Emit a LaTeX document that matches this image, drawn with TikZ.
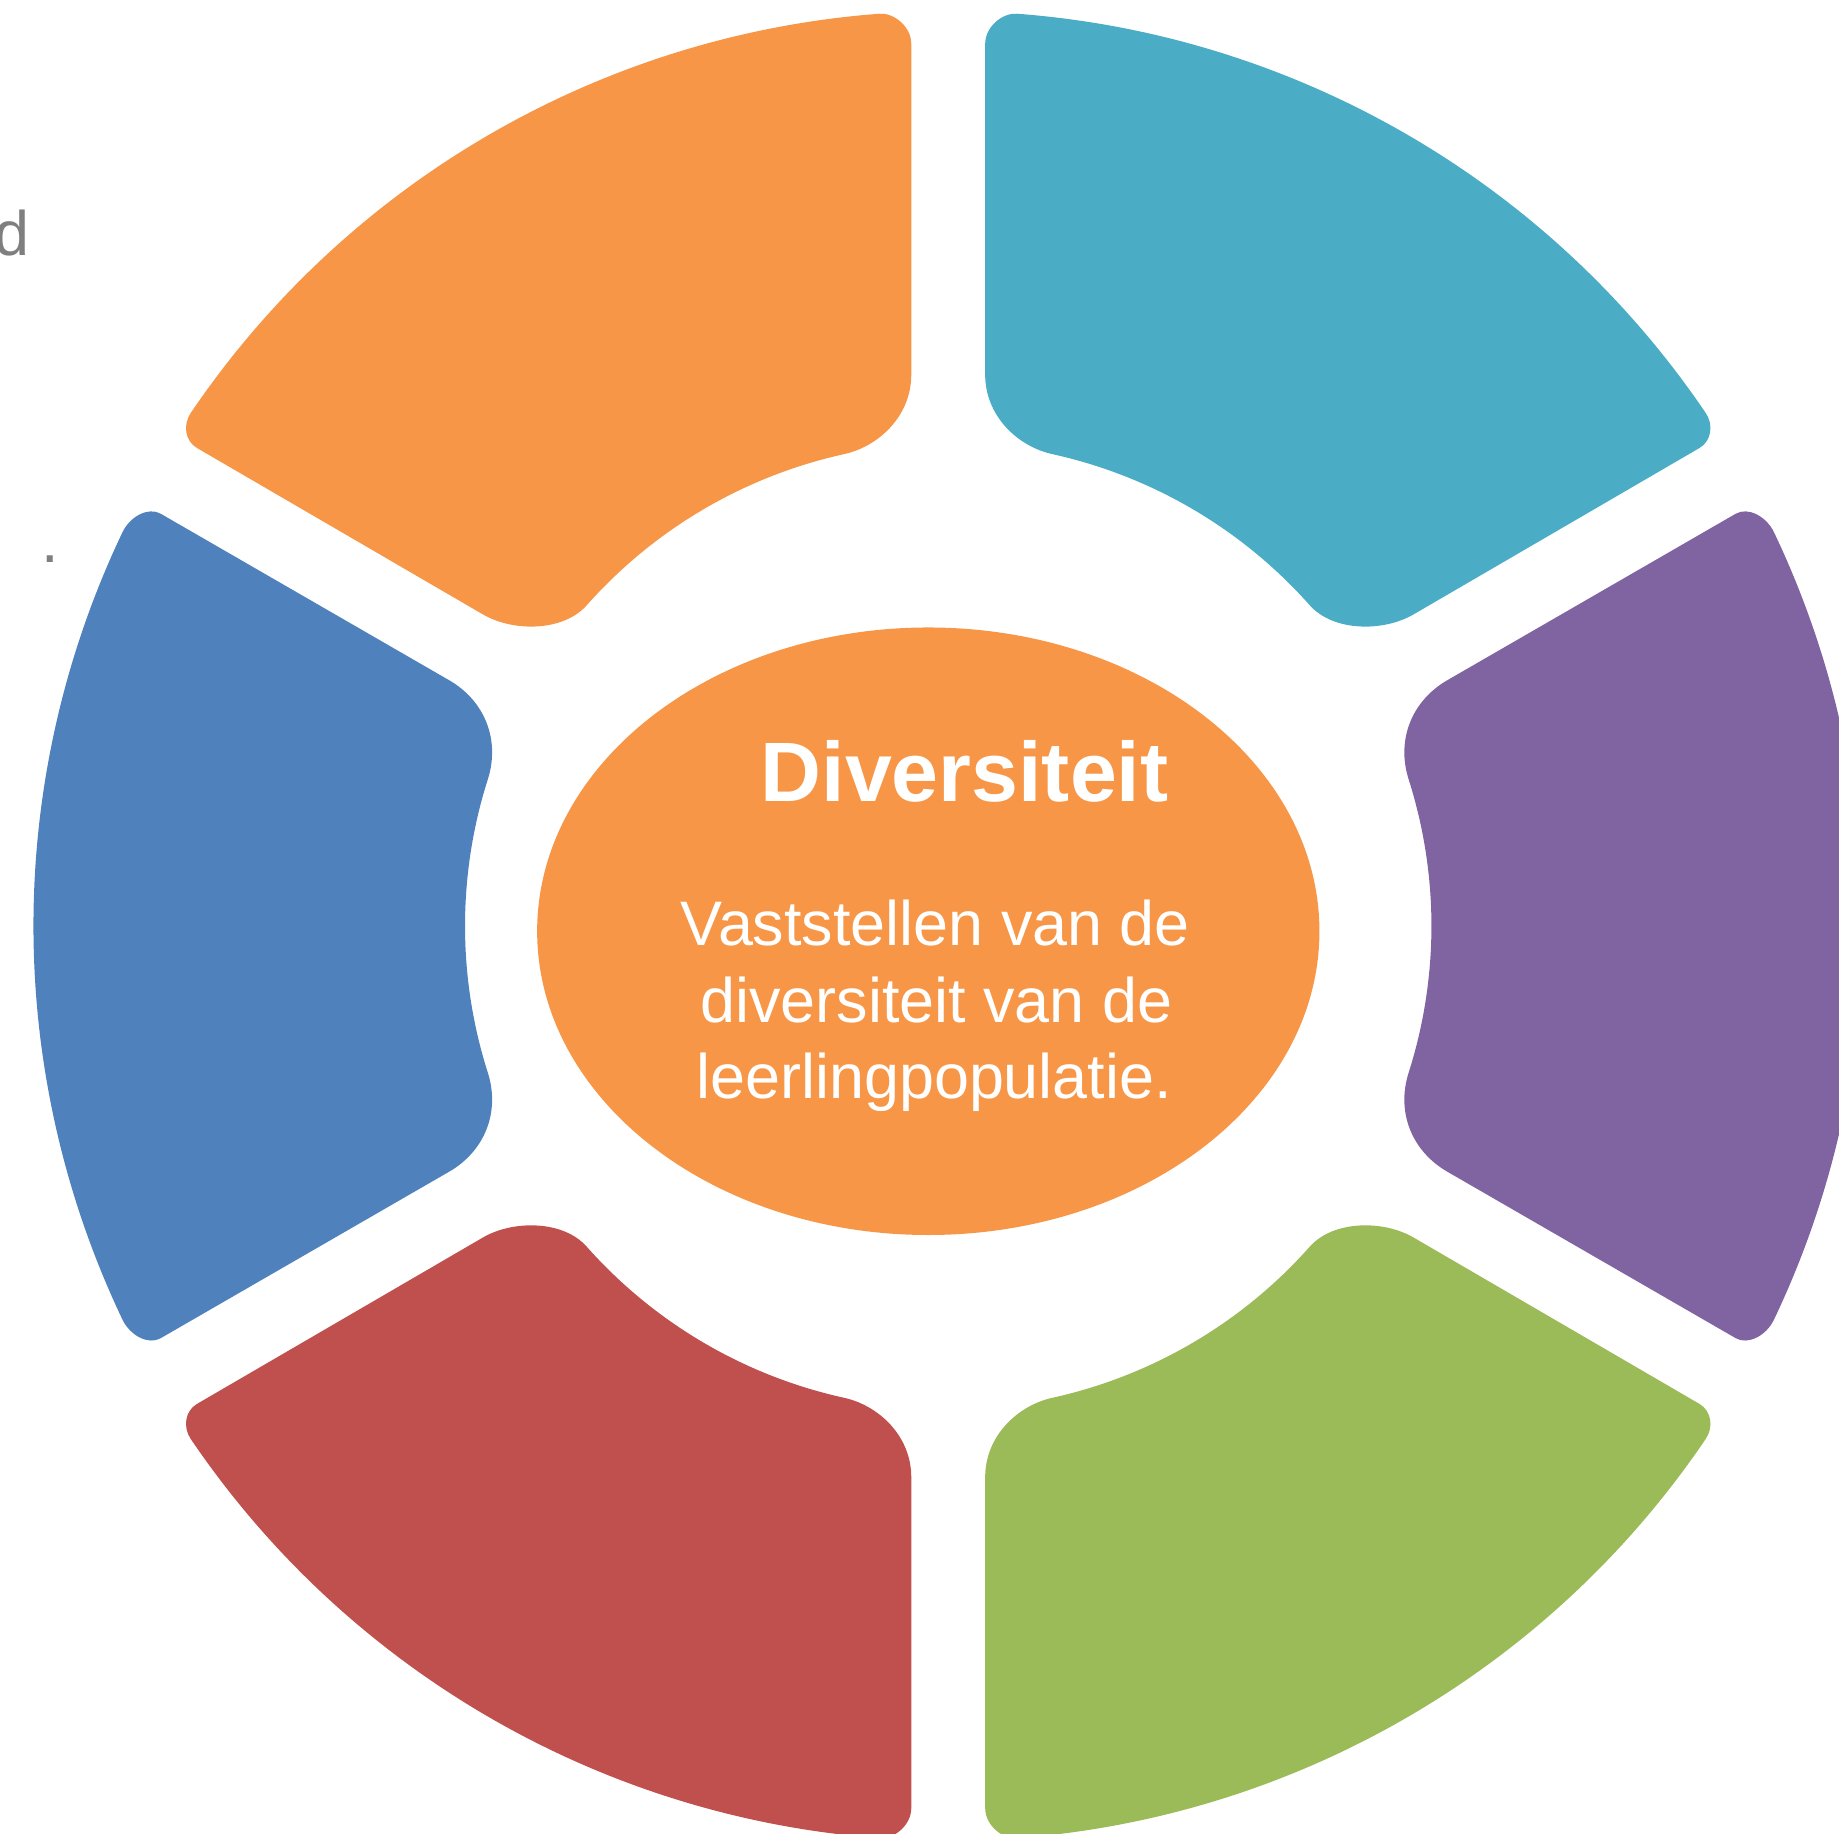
\documentclass[tikz,border=0pt]{standalone}
\usepackage{fontspec}
\setmainfont{Liberation Sans}
\usepackage{tikz}
\usepackage{xcolor}
\usetikzlibrary{positioning}
\definecolor{segorange}{HTML}{F79646}
\definecolor{segteal}{HTML}{4BACC6}
\definecolor{segblue}{HTML}{4F81BD}
\definecolor{segpurple}{HTML}{8064A2}
\definecolor{segred}{HTML}{C0504D}
\definecolor{seggreen}{HTML}{9BBB59}
\definecolor{restgray}{HTML}{7F7F7F}

\begin{document}
\begin{tikzpicture}[x=0.011728cm,y=0.011728cm,
  titel/.style={anchor=base,text=white,font=\fontsize{24}{29}\selectfont\bfseries},
  regel/.style={anchor=base,text=white,font=\fontsize{17.9}{21.8}\selectfont},
  rest/.style={text=restgray,font=\fontsize{17.9}{21.8}\selectfont}]
\tikzstyle{every node}+=[inner sep=0pt]
\useasboundingbox (-808.5,-773.5) rectangle (759.5,789.5);
\clip (-808.5,-773.5) rectangle (759.5,789.5);
\fill [segorange] (-31.5,470) -- (-31.5,752) .. controls (-31.5,767) and (-46.5,778.7) .. (-58.5,777.8) arc (94.3:145.9:780) .. controls (-652.6,427.5) and (-650.9,413.5) .. (-640.5,407.5) -- (-396.5,265.5) .. controls (-370.5,250.5) and (-328,251) .. (-308.2,273.5) arc (138.4:102.4:412) .. controls (-59.1,408.9) and (-31.5,435) .. (-31.5,470) -- cycle;
\fill [segteal] (31.5,470) -- (31.5,752) .. controls (31.5,767) and (46.5,778.7) .. (58.5,777.8) arc (85.7:34.1:780) .. controls (652.6,427.5) and (650.9,413.5) .. (640.5,407.5) -- (396.5,265.5) .. controls (370.5,250.5) and (328,251) .. (308.2,273.5) arc (41.6:77.6:412) .. controls (59.1,408.9) and (31.5,435) .. (31.5,470) -- cycle;
\fill [segblue] (-425.5,209.5) -- (-671.5,351.5) .. controls (-681.9,357.5) and (-697.5,349.3) .. (-704,335.8) arc (154.5:205.5:780) .. controls (-697.5,-349.3) and (-681.9,-357.5) .. (-671.5,-351.5) -- (-425.5,-209.5) .. controls (-395.2,-192) and (-381.9,-158.7) .. (-392.5,-125.3) arc (197.7:162.3:412) .. controls (-381.9,158.7) and (-395.2,192) .. (-425.5,209.5) -- cycle;
\fill [segpurple] (425.5,209.5) -- (671.5,351.5) .. controls (681.9,357.5) and (697.5,349.3) .. (704,335.8) arc (25.5:-25.5:780) .. controls (697.5,-349.3) and (681.9,-357.5) .. (671.5,-351.5) -- (425.5,-209.5) .. controls (395.2,-192) and (381.9,-158.7) .. (392.5,-125.3) arc (-17.7:17.7:412) .. controls (381.9,158.7) and (395.2,192) .. (425.5,209.5) -- cycle;
\fill [segred] (-31.5,-470) -- (-31.5,-752) .. controls (-31.5,-767) and (-46.5,-778.7) .. (-58.5,-777.8) arc (-94.3:-145.9:780) .. controls (-652.6,-427.5) and (-650.9,-413.5) .. (-640.5,-407.5) -- (-396.5,-265.5) .. controls (-370.5,-250.5) and (-328,-251) .. (-308.2,-273.5) arc (-138.4:-102.4:412) .. controls (-59.1,-408.9) and (-31.5,-435) .. (-31.5,-470) -- cycle;
\fill [seggreen] (31.5,-470) -- (31.5,-752) .. controls (31.5,-767) and (46.5,-778.7) .. (58.5,-777.8) arc (-85.7:-34.1:780) .. controls (652.6,-427.5) and (650.9,-413.5) .. (640.5,-407.5) -- (396.5,-265.5) .. controls (370.5,-250.5) and (328,-251) .. (308.2,-273.5) arc (-41.6:-77.6:412) .. controls (59.1,-408.9) and (31.5,-435) .. (31.5,-470) -- cycle;
\fill [segorange] (-17,-4.5) ellipse (333.5 and 259);
\node [titel] (kop) at (14,106.5) {Diversiteit};
\node [regel] (regel1) at (-11,-16.5) {Vaststellen van de};
\node [regel] (regel2) at (-10,-82.5) {diversiteit van de};
\node [regel] (regel3) at (-12,-147.5) {leerlingpopulatie.};
\node [rest,anchor=base east] (restd) at (-782.5,571.5) {d};
\node [rest,anchor=base west] (restpunt) at (-774,309.5) {.};
\end{tikzpicture}
\end{document}
